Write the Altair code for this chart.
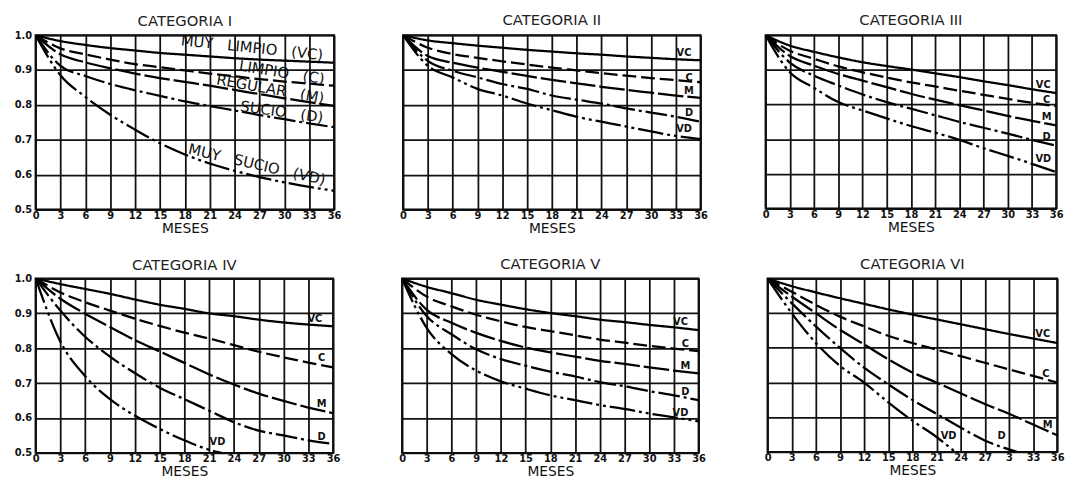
import altair as alt
import pandas as pd

# ---------------- data ----------------
MONTHS = [0, 3, 6, 9, 12, 15, 18, 21, 24, 27, 30, 33, 36]
SERIES = ["VC", "C", "M", "D", "VD"]
Y_TICKS = [0.5, 0.6, 0.7, 0.8, 0.9, 1.0]

# CATEGORIA I
CAT1_VC = [1.0, 0.983, 0.972, 0.963, 0.956, 0.949, 0.944, 0.939, 0.934, 0.930, 0.927, 0.924, 0.921]
CAT1_C = [1.0, 0.962, 0.945, 0.930, 0.917, 0.908, 0.899, 0.890, 0.882, 0.874, 0.867, 0.861, 0.855]
CAT1_M = [1.0, 0.945, 0.922, 0.905, 0.890, 0.877, 0.866, 0.855, 0.843, 0.831, 0.819, 0.808, 0.797]
CAT1_D = [1.0, 0.912, 0.883, 0.860, 0.842, 0.826, 0.810, 0.797, 0.784, 0.771, 0.759, 0.747, 0.736]
CAT1_VD = [1.0, 0.885, 0.823, 0.772, 0.729, 0.690, 0.658, 0.632, 0.611, 0.593, 0.578, 0.565, 0.554]

# CATEGORIA II
CAT2_VC = [1.0, 0.985, 0.977, 0.970, 0.964, 0.958, 0.953, 0.948, 0.944, 0.939, 0.935, 0.931, 0.928]
CAT2_C = [1.0, 0.964, 0.946, 0.935, 0.925, 0.916, 0.907, 0.899, 0.891, 0.884, 0.877, 0.871, 0.865]
CAT2_M = [1.0, 0.940, 0.921, 0.907, 0.895, 0.883, 0.872, 0.862, 0.852, 0.843, 0.835, 0.827, 0.820]
CAT2_D = [1.0, 0.926, 0.898, 0.879, 0.860, 0.846, 0.827, 0.815, 0.804, 0.790, 0.778, 0.766, 0.752]
CAT2_VD = [1.0, 0.912, 0.879, 0.846, 0.827, 0.804, 0.785, 0.766, 0.752, 0.738, 0.724, 0.711, 0.702]

# CATEGORIA III
CAT3_VC = [1.0, 0.970, 0.952, 0.936, 0.922, 0.911, 0.901, 0.890, 0.879, 0.867, 0.856, 0.844, 0.833]
CAT3_C = [1.0, 0.955, 0.932, 0.910, 0.893, 0.878, 0.864, 0.852, 0.840, 0.828, 0.816, 0.805, 0.795]
CAT3_M = [1.0, 0.940, 0.912, 0.888, 0.869, 0.850, 0.831, 0.814, 0.798, 0.783, 0.767, 0.753, 0.740]
CAT3_D = [1.0, 0.921, 0.883, 0.855, 0.829, 0.807, 0.788, 0.769, 0.750, 0.733, 0.716, 0.698, 0.681]
CAT3_VD = [1.0, 0.893, 0.848, 0.807, 0.783, 0.760, 0.738, 0.719, 0.698, 0.674, 0.652, 0.629, 0.605]

# CATEGORIA IV
CAT4_VC = [1.0, 0.984, 0.970, 0.956, 0.940, 0.925, 0.913, 0.900, 0.892, 0.882, 0.874, 0.868, 0.863]
CAT4_C = [1.0, 0.960, 0.932, 0.908, 0.885, 0.864, 0.845, 0.828, 0.809, 0.790, 0.774, 0.759, 0.745]
CAT4_M = [1.0, 0.942, 0.899, 0.861, 0.824, 0.791, 0.758, 0.725, 0.696, 0.670, 0.649, 0.630, 0.614]
CAT4_D = [1.0, 0.908, 0.833, 0.776, 0.729, 0.687, 0.654, 0.621, 0.588, 0.564, 0.550, 0.536, 0.526]
CAT4_VD_MONTHS = [0, 3, 6, 9, 12, 15, 18, 21, 22.5]
CAT4_VD = [1.0, 0.819, 0.720, 0.654, 0.607, 0.569, 0.536, 0.509, 0.500]

# CATEGORIA V
CAT5_VC = [1.0, 0.976, 0.958, 0.939, 0.925, 0.912, 0.901, 0.892, 0.882, 0.875, 0.867, 0.860, 0.852]
CAT5_C = [1.0, 0.948, 0.920, 0.896, 0.877, 0.861, 0.849, 0.837, 0.825, 0.816, 0.807, 0.799, 0.792]
CAT5_M = [1.0, 0.910, 0.873, 0.844, 0.821, 0.802, 0.788, 0.776, 0.764, 0.755, 0.745, 0.736, 0.728]
CAT5_D = [1.0, 0.892, 0.840, 0.797, 0.769, 0.750, 0.733, 0.719, 0.703, 0.691, 0.677, 0.665, 0.651]
CAT5_VD = [1.0, 0.858, 0.783, 0.736, 0.705, 0.684, 0.665, 0.651, 0.637, 0.626, 0.613, 0.602, 0.590]

# CATEGORIA VI
CAT6_VC = [1.0, 0.978, 0.960, 0.943, 0.927, 0.911, 0.896, 0.882, 0.868, 0.854, 0.840, 0.827, 0.814]
CAT6_C = [1.0, 0.962, 0.924, 0.890, 0.862, 0.835, 0.814, 0.795, 0.776, 0.757, 0.738, 0.719, 0.700]
CAT6_M = [1.0, 0.948, 0.900, 0.852, 0.810, 0.767, 0.729, 0.700, 0.669, 0.638, 0.610, 0.579, 0.548]
CAT6_D_MONTHS = [0, 3, 6, 9, 12, 15, 18, 21, 24, 27, 31]
CAT6_D = [1.0, 0.929, 0.862, 0.800, 0.743, 0.695, 0.650, 0.610, 0.570, 0.533, 0.500]
CAT6_VD_MONTHS = [0, 3, 6, 9, 12, 15, 18, 21, 23.3]
CAT6_VD = [1.0, 0.900, 0.814, 0.748, 0.700, 0.643, 0.590, 0.543, 0.500]

# curve labels
NB = "\u00a0\u00a0\u00a0"
CAT1_LABELS = ["MUY" + NB + "LIMPIO" + NB + "(VC)", "LIMPIO" + NB + "(C)", "REGULAR" + NB + "(M)",
               "SUCIO" + NB + "(D)", "MUY" + NB + "SUCIO" + NB + "(VD)"]
CAT1_LABEL_X = [26.1, 29.7, 28.3, 29.7, 26.7]
CAT1_LABEL_Y = [0.964, 0.893, 0.846, 0.780, 0.629]
CAT1_LABEL_ANGLE = [6, 9, 10, 8, 13]

SHORT_LABELS = ["VC", "C", "M", "D", "VD"]
CAT2_LABEL_X = [34.0, 34.6, 34.6, 34.6, 34.0]
CAT2_LABEL_Y = [0.950, 0.877, 0.840, 0.777, 0.730]
CAT3_LABEL_X = [34.4, 34.8, 34.8, 34.8, 34.4]
CAT3_LABEL_Y = [0.856, 0.812, 0.764, 0.707, 0.643]
CAT4_LABEL_X = [33.8, 34.6, 34.6, 34.6, 22.0]
CAT4_LABEL_Y = [0.885, 0.772, 0.640, 0.545, 0.531]
CAT5_LABEL_X = [33.8, 34.4, 34.4, 34.4, 33.8]
CAT5_LABEL_Y = [0.875, 0.811, 0.748, 0.674, 0.615]
CAT6_LABEL_X = [34.2, 34.6, 34.8, 29.1, 22.5]
CAT6_LABEL_Y = [0.840, 0.724, 0.578, 0.545, 0.545]

# ---------------- styling ----------------
FONT = "DejaVu Sans"
DASHES = [[1, 0], [14, 5], [26, 4], [22, 4, 3, 4], [26, 4, 3, 4, 3, 4]]


def series_frame(parts):
    rows = []
    for name, xs, ys in parts:
        for x, y in zip(xs, ys):
            rows.append({"mes": x, "factor": y, "serie": name})
    return pd.DataFrame(rows)


def make_x_axis(label_expr=None):
    kw = dict(
        values=MONTHS, grid=True, ticks=False, domain=False, labelFlush=False,
        labelOverlap=False, labelPadding=1, labelFont=FONT, labelFontSize=10,
        labelFontWeight="bold", labelColor="#111", title="MESES", titleFont=FONT,
        titleFontSize=14, titleFontWeight="normal", titleColor="#111", titlePadding=1,
        gridColor="#111", gridWidth=1.8, gridOpacity=1,
    )
    if label_expr:
        kw["labelExpr"] = label_expr
    return alt.Axis(**kw)


def make_y_axis(show):
    return alt.Axis(
        values=Y_TICKS, format=".1f", grid=True, ticks=False, domain=False,
        labels=show, labelFlush=False, labelPadding=4, labelFont=FONT,
        labelFontSize=10, labelFontWeight="bold", labelColor="#111", title=None,
        gridColor="#111", gridWidth=1.8, gridOpacity=1,
    )


def panel(title, parts, labels, lx, ly, width, height, show_y, angles=None, label_expr=None):
    df = series_frame(parts)
    xs = alt.Scale(domain=[0, 36], nice=False)
    ys = alt.Scale(domain=[0.5, 1.0], nice=False)
    X = alt.X("mes:Q", scale=xs, axis=make_x_axis(label_expr))
    Y = alt.Y("factor:Q", scale=ys, axis=make_y_axis(show_y))
    lines = alt.Chart(df).mark_line(
        color="black", strokeWidth=2.3, interpolate="monotone", clip=True
    ).encode(
        x=X, y=Y,
        strokeDash=alt.StrokeDash("serie:N", scale=alt.Scale(domain=SERIES, range=DASHES), legend=None),
        detail="serie:N",
    )
    ldf = pd.DataFrame({"mes": lx, "factor": ly, "t": labels})
    if angles is not None:
        ldf["a"] = angles
        text = alt.Chart(ldf).mark_text(
            font=FONT, fontSize=15, color="#111", align="center", baseline="middle"
        ).encode(x=X, y=Y, text="t:N", angle=alt.Angle("a:Q", scale=None))
    else:
        text = alt.Chart(ldf).mark_text(
            font=FONT, fontSize=10, fontWeight="bold", color="#111", align="center",
            baseline="middle"
        ).encode(x=X, y=Y, text="t:N")
    return alt.layer(lines, text).properties(
        width=width, height=height,
        title=alt.TitleParams(title, font=FONT, fontSize=15, fontWeight="normal",
                              color="#222", offset=1 if show_y else 7),
    )


p1 = panel("CATEGORIA I",
           [("VC", MONTHS, CAT1_VC), ("C", MONTHS, CAT1_C), ("M", MONTHS, CAT1_M),
            ("D", MONTHS, CAT1_D), ("VD", MONTHS, CAT1_VD)],
           CAT1_LABELS, CAT1_LABEL_X, CAT1_LABEL_Y, 303, 177, True, angles=CAT1_LABEL_ANGLE)
p2 = panel("CATEGORIA II",
           [("VC", MONTHS, CAT2_VC), ("C", MONTHS, CAT2_C), ("M", MONTHS, CAT2_M),
            ("D", MONTHS, CAT2_D), ("VD", MONTHS, CAT2_VD)],
           SHORT_LABELS, CAT2_LABEL_X, CAT2_LABEL_Y, 302, 177, False)
p3 = panel("CATEGORIA III",
           [("VC", MONTHS, CAT3_VC), ("C", MONTHS, CAT3_C), ("M", MONTHS, CAT3_M),
            ("D", MONTHS, CAT3_D), ("VD", MONTHS, CAT3_VD)],
           SHORT_LABELS, CAT3_LABEL_X, CAT3_LABEL_Y, 295, 176, False)
p4 = panel("CATEGORIA IV",
           [("VC", MONTHS, CAT4_VC), ("C", MONTHS, CAT4_C), ("M", MONTHS, CAT4_M),
            ("D", MONTHS, CAT4_D), ("VD", CAT4_VD_MONTHS, CAT4_VD)],
           SHORT_LABELS, CAT4_LABEL_X, CAT4_LABEL_Y, 302, 177, True)
p5 = panel("CATEGORIA V",
           [("VC", MONTHS, CAT5_VC), ("C", MONTHS, CAT5_C), ("M", MONTHS, CAT5_M),
            ("D", MONTHS, CAT5_D), ("VD", MONTHS, CAT5_VD)],
           SHORT_LABELS, CAT5_LABEL_X, CAT5_LABEL_Y, 301, 177, False)
p6 = panel("CATEGORIA VI",
           [("VC", MONTHS, CAT6_VC), ("C", MONTHS, CAT6_C), ("M", MONTHS, CAT6_M),
            ("D", CAT6_D_MONTHS, CAT6_D), ("VD", CAT6_VD_MONTHS, CAT6_VD)],
           SHORT_LABELS, CAT6_LABEL_X, CAT6_LABEL_Y, 294, 176, False,
           label_expr="datum.value == 30 ? '3' : datum.label")

row1 = alt.hconcat(p1, alt.hconcat(p2, p3, spacing=53), spacing=57)
row2 = alt.hconcat(p4, alt.hconcat(p5, p6, spacing=57), spacing=57)

chart = alt.vconcat(row1, row2, spacing=20).properties(
    padding={"left": 5, "top": 1, "right": 5, "bottom": 0},
    background="white",
).configure_view(stroke="black", strokeWidth=2)

chart.save("out.html", embed_options={"renderer": "svg", "actions": False})
